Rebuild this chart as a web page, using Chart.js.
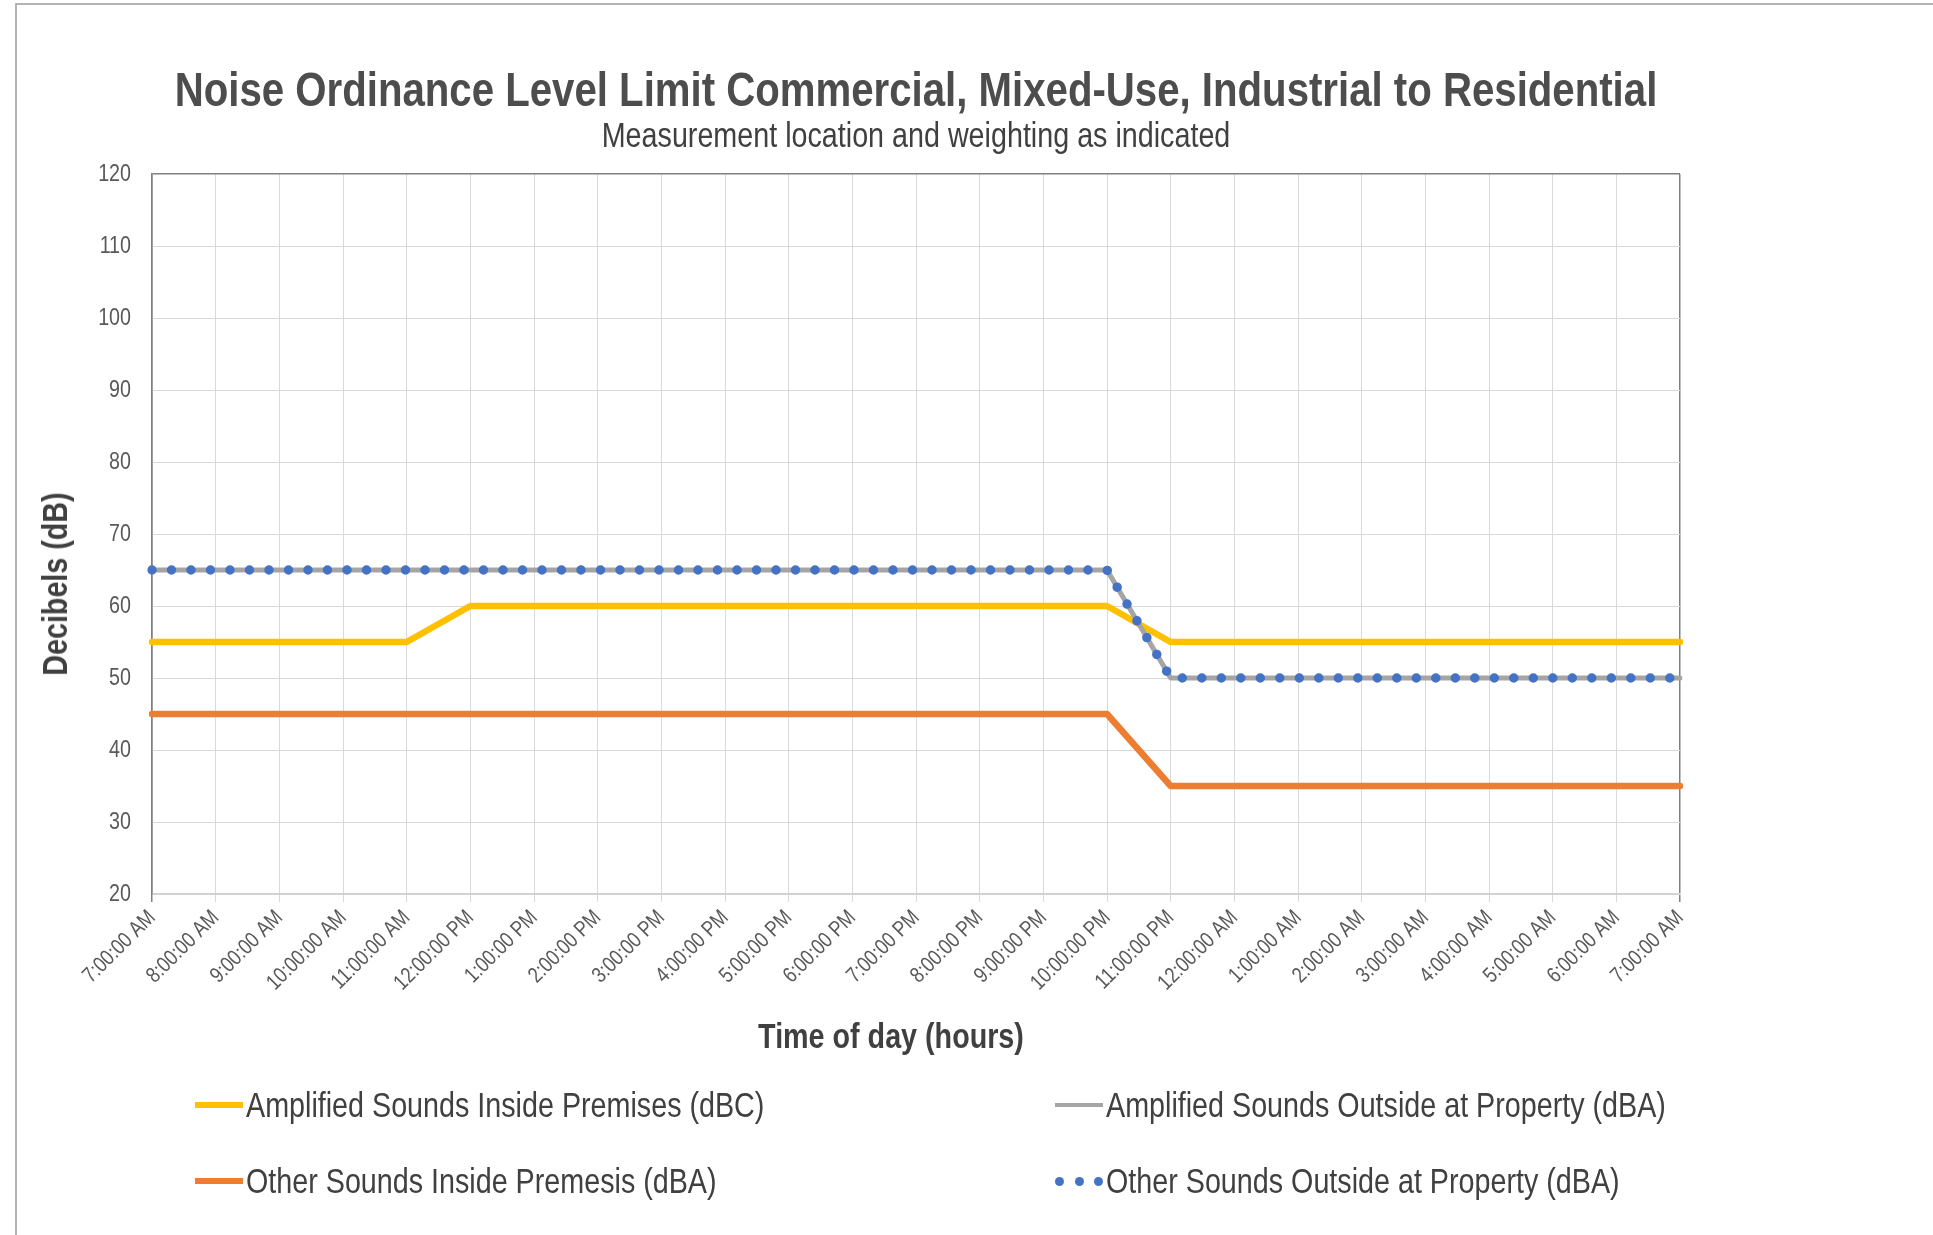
<!DOCTYPE html>
<html lang="en">
<head>
    <meta charset="UTF-8">
    <title>Noise Ordinance Level Limit</title>
    <script src="https://cdnjs.cloudflare.com/ajax/libs/Chart.js/4.4.1/chart.umd.min.js"></script>
    <style>
        body{
            margin: 0;
            padding: 0;
            background-color: white;
            font-family: 'Liberation Sans', Arial, sans-serif;
            overflow: hidden;
        }
        .frame{
            position: absolute;
            left: 15px;
            top: 3px;
            width: 1930px;
            height: 1240px;
            border-top: 2px solid #b4b4b4;
            border-left: 2px solid #b4b4b4;
        }
        .wrap{
            position: absolute;
            left: 0;
            top: 0;
            width: 1933px;
            height: 1235px;
        }
        /* no narrow face installed, so text is squeezed to look like Arial Narrow */
        .axis-title{
            position: absolute;
            font-weight: bold;
            font-size: 35px;
            color: #404040;
            white-space: nowrap;
        }
        .y-title{
            left: 55px;
            top: 584px;
            transform: translate(-50%, -50%) rotate(-90deg) scaleX(0.82);
        }
        .x-title{
            left: 891px;
            top: 1036px;
            transform: translate(-50%, -50%) scaleX(0.82);
        }
        .legend-item{
            position: absolute;
            display: flex;
            align-items: center;
            font-size: 35px;
            color: #404040;
            white-space: nowrap;
            transform: translateY(-50%);
        }
        .legend-item .txt{
            display: inline-block;
            transform: scaleX(0.82);
            transform-origin: left center;
        }
        .legend-item .sym{
            display: inline-block;
            width: 48px;
            height: 6px;
            margin-right: 3px;
        }
        .legend-item .dots{
            display: inline-flex;
            justify-content: space-between;
            align-items: center;
            width: 48px;
            margin-right: 3px;
        }
        .legend-item .dots span{
            width: 9px;
            height: 9px;
            border-radius: 50%;
        }
    </style>
</head>
<body>
    <div class="frame"></div>
    <div class="wrap"><canvas id="noiseChart"></canvas></div>
    <div class="axis-title y-title">Decibels (dB)</div>
    <div class="axis-title x-title">Time of day (hours)</div>
    <div id="legend"></div>
    <script>
        const hours = ['7:00:00 AM','8:00:00 AM','9:00:00 AM','10:00:00 AM','11:00:00 AM','12:00:00 PM',
            '1:00:00 PM','2:00:00 PM','3:00:00 PM','4:00:00 PM','5:00:00 PM','6:00:00 PM','7:00:00 PM',
            '8:00:00 PM','9:00:00 PM','10:00:00 PM','11:00:00 PM','12:00:00 AM','1:00:00 AM','2:00:00 AM',
            '3:00:00 AM','4:00:00 AM','5:00:00 AM','6:00:00 AM','7:00:00 AM'];

        const ampInside    = [55,55,55,55,55,60,60,60,60,60,60,60,60,60,60,60,55,55,55,55,55,55,55,55,55];
        const ampOutside   = [65,65,65,65,65,65,65,65,65,65,65,65,65,65,65,65,50,50,50,50,50,50,50,50,50];
        const otherInside  = [45,45,45,45,45,45,45,45,45,45,45,45,45,45,45,45,35,35,35,35,35,35,35,35,35];
        const otherOutside = [65,65,65,65,65,65,65,65,65,65,65,65,65,65,65,65,50,50,50,50,50,50,50,50,50];

        const yTicks = [20,30,40,50,60,70,80,90,100,110,120];

        const fontFam = "'Liberation Sans', Arial, sans-serif";
        const SQUEEZE = 0.82;
        const gridLight = '#d9d9d9';
        const gridDark = '#808080';

        const datasets = [
            {label:'Amplified Sounds Inside Premises (dBC)', data: ampInside, borderColor:'#ffc000', borderWidth:6.5, order:3},
            {label:'Amplified Sounds Outside at Property (dBA)', data: ampOutside, borderColor:'#a5a5a5', borderWidth:5, order:1},
            {label:'Other Sounds Inside Premesis (dBA)', data: otherInside, borderColor:'#ed7d31', borderWidth:6.5, order:2},
            {label:'Other Sounds Outside at Property (dBA)', data: otherOutside, borderColor:'#4472c4', borderWidth:9.5,
                borderDash:[0, 19.5], order:0}
        ];
        datasets.forEach(d => {
            d.pointRadius = 0;
            d.tension = 0;
            d.fill = false;
            d.borderCapStyle = 'round';
            d.borderJoinStyle = 'round';
        });

        const ctx = document.getElementById('noiseChart').getContext('2d');

        // squeeze canvas text horizontally around its anchor (narrow font look)
        const rawFill = ctx.fillText;
        ctx.fillText = function(text, x, y, maxWidth){
            this.save();
            this.translate(x, y);
            this.scale(SQUEEZE, 1);
            if (maxWidth === undefined) rawFill.call(this, text, 0, 0);
            else rawFill.call(this, text, 0, 0, maxWidth / SQUEEZE);
            this.restore();
        };

        const chart = new Chart(ctx, {
            type: 'line',
            data: { labels: hours, datasets: datasets },
            options: {
                responsive: true,
                maintainAspectRatio: false,
                animation: false,
                layout: { padding: { left: 0, right: 253, top: 0, bottom: 211 } },
                plugins: {
                    legend: { display: false },
                    tooltip: { enabled: false },
                    title: {
                        display: true,
                        fullSize: false,
                        text: 'Noise Ordinance Level Limit Commercial, Mixed-Use, Industrial to Residential',
                        color: '#4d4d4d',
                        font: { family: fontFam, size: 49, weight: 'bold', lineHeight: 1 },
                        padding: { top: 68, bottom: 0 }
                    },
                    subtitle: {
                        display: true,
                        fullSize: false,
                        text: 'Measurement location and weighting as indicated',
                        color: '#404040',
                        font: { family: fontFam, size: 35, lineHeight: 1 },
                        padding: { top: 3, bottom: 19 }
                    }
                },
                scales: {
                    x: {
                        offset: false,
                        afterFit: s => { s.height = 130; },
                        grid: {
                            color: c => (c.index === 0 || c.index === hours.length - 1) ? gridDark : gridLight,
                            lineWidth: c => (c.index === 0 || c.index === hours.length - 1) ? 1.5 : 1,
                            tickLength: 8
                        },
                        border: { color: '#d0d0d0', width: 1.5 },
                        ticks: {
                            autoSkip: false,
                            minRotation: 45,
                            maxRotation: 45,
                            padding: 3,
                            color: '#595959',
                            font: { family: fontFam, size: 22 }
                        }
                    },
                    y: {
                        min: 20,
                        max: 120,
                        afterFit: s => { s.width = 152; },
                        afterBuildTicks: s => { s.ticks = yTicks.map(v => ({ value: v })); },
                        grid: {
                            color: c => c.tick && c.tick.value === 120 ? gridDark : gridLight,
                            lineWidth: c => c.tick && c.tick.value === 120 ? 1.5 : 1,
                            drawTicks: false
                        },
                        border: { color: gridDark, width: 1.5 },
                        ticks: {
                            padding: 21,
                            color: '#595959',
                            font: { family: fontFam, size: 24 }
                        }
                    }
                }
            }
        });

        // legend, laid out like the Excel one: two rows, two columns
        const legendPos = [
            { left: 195, top: 1105 },
            { left: 1055, top: 1105 },
            { left: 195, top: 1181 },
            { left: 1055, top: 1181 }
        ];
        const legendEl = document.getElementById('legend');
        datasets.forEach((d, i) => {
            const item = document.createElement('div');
            item.className = 'legend-item';
            item.style.left = legendPos[i].left + 'px';
            item.style.top = legendPos[i].top + 'px';
            const sym = document.createElement('span');
            if (d.borderDash) {
                sym.className = 'dots';
                for (let k = 0; k < 3; k++) {
                    const dot = document.createElement('span');
                    dot.style.background = d.borderColor;
                    sym.appendChild(dot);
                }
            } else {
                sym.className = 'sym';
                sym.style.background = d.borderColor;
                sym.style.height = Math.round(d.borderWidth - 1) + 'px';
            }
            const txt = document.createElement('span');
            txt.className = 'txt';
            txt.textContent = d.label;
            item.appendChild(sym);
            item.appendChild(txt);
            legendEl.appendChild(item);
        });
    </script>
</body>
</html>
